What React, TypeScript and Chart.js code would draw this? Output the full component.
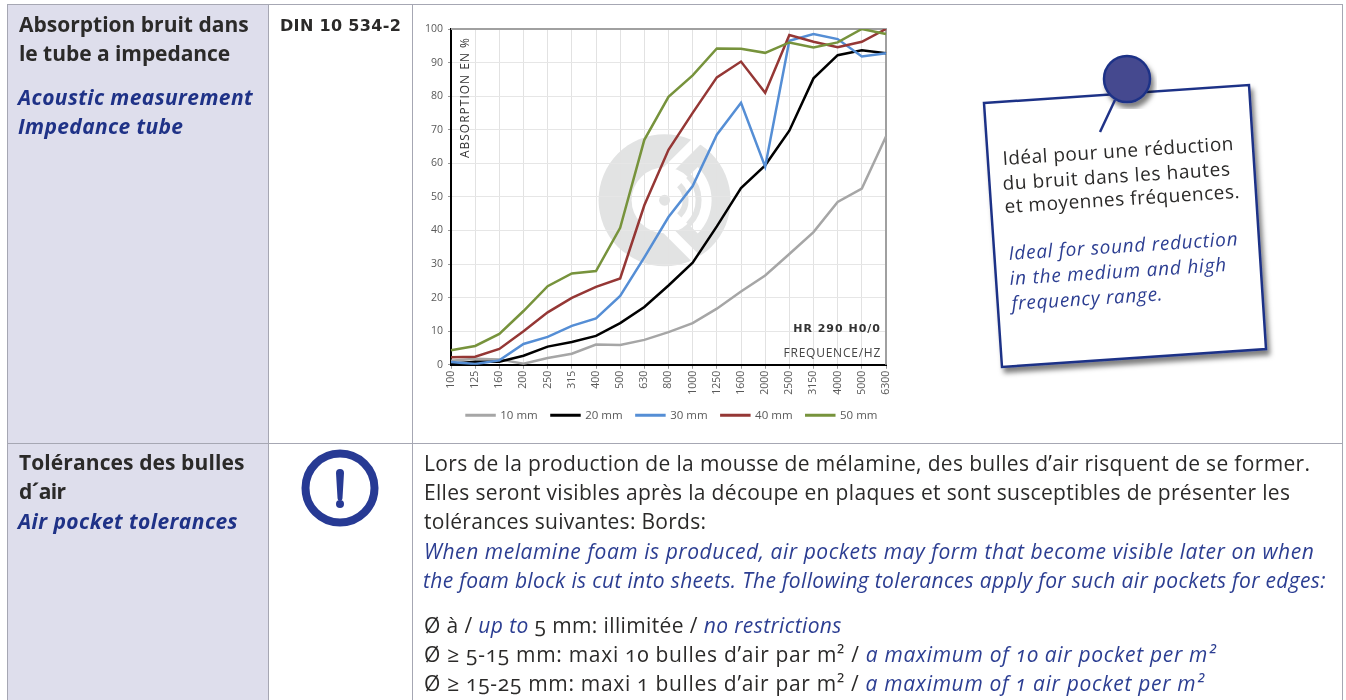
import React, { useEffect, useLayoutEffect, useRef } from "react";
import { Chart, registerables } from "chart.js";

Chart.register(...registerables);

const frequencies = ["100","125","160","200","250","315","400","500","630","800","1000","1250","1600","2000","2500","3150","4000","5000","6300"];
const mm10 = [1.2,1.8,1.6,0.3,2,3.3,6,5.9,7.4,9.7,12.4,16.7,21.8,26.6,33,39.5,48.5,52.5,68];
const mm20 = [0.3,0.9,0.9,2.7,5.4,6.8,8.6,12.4,17.2,23.6,30.4,41.2,52.6,59.4,69.7,85.3,92.2,93.7,92.8];
const mm30 = [0.8,0.2,1.3,6.2,8.3,11.6,13.8,20.5,32,44,53.2,68.5,78,59,96.5,98.5,97,91.8,92.8];
const mm40 = [2.2,2.4,4.7,10,15.6,19.9,23.2,25.7,47.5,64,75,85.6,90.3,81,98.2,96.2,94.6,96.2,100];
const mm50 = [4.3,5.6,9.2,16,23.4,27.2,27.9,40.8,67,79.8,86.2,94.2,94.1,92.9,96,94.5,96,100,98.5];
const seriesNames = ["10 mm","20 mm","30 mm","40 mm","50 mm"];
const seriesValues = [mm10,mm20,mm30,mm40,mm50];
const seriesColors = ["#a6a6a6","#000000","#558ed5","#953735","#77933c"];

const FONT = '"Open Sans", sans-serif';
const INK = "#2b2a29";
const BLUE = "#1f3287";
const SOFT = "#2c3e92";

function arcBand(ctx: CanvasRenderingContext2D, cx: number, cy: number, r: number, w: number, half: number) {
  ctx.beginPath();
  ctx.lineWidth = w;
  ctx.arc(cx, cy, r, -half, half);
  ctx.stroke();
}

const decor = {
  id: "decor",
  afterLayout(chart: any) {
    const d = (chart.width - chart.legend.width) / 2 - chart.legend.left;
    chart.legend.left += d;
    chart.legend.right += d;
  },
  beforeDraw(chart: any) {
    const { ctx, chartArea: a } = chart;
    const cx = a.left + a.width * 0.491;
    const cy = a.top + a.height * 0.51;
    const gray = "#e2e3e3";
    ctx.save();
    ctx.fillStyle = gray;
    ctx.beginPath(); ctx.arc(cx, cy, 66, 0, Math.PI * 2); ctx.fill();
    ctx.fillStyle = "#fff";
    ctx.beginPath(); ctx.arc(cx, cy, 33, 0, Math.PI * 2); ctx.fill();
    ctx.beginPath();
    ctx.moveTo(cx, cy);
    ctx.lineTo(cx + 80, cy - 80);
    ctx.lineTo(cx + 80, cy + 80);
    ctx.closePath();
    ctx.save(); ctx.clip();
    ctx.beginPath(); ctx.arc(cx, cy, 47, 0, Math.PI * 2); ctx.fill();
    ctx.restore();
    ctx.strokeStyle = "#fff";
    ctx.lineWidth = 10;
    for (const s of [-1, 1]) {
      ctx.beginPath();
      ctx.moveTo(cx + 2, cy + s * 29);
      ctx.lineTo(cx + 42, cy + s * 69);
      ctx.stroke();
    }
    ctx.strokeStyle = gray;
    arcBand(ctx, cx, cy, 21, 6, 0.8);
    arcBand(ctx, cx, cy, 34, 6, 0.8);
    ctx.fillStyle = gray;
    ctx.beginPath(); ctx.arc(cx, cy, 5.5, 0, Math.PI * 2); ctx.fill();
    ctx.restore();
  },
  beforeDatasetsDraw(chart: any) {
    const { ctx, chartArea: a } = chart;
    ctx.save();
    ctx.strokeStyle = "#a0a0a0";
    ctx.lineWidth = 2;
    ctx.beginPath();
    ctx.moveTo(a.left, a.top);
    ctx.lineTo(a.right, a.top);
    ctx.lineTo(a.right, a.bottom);
    ctx.stroke();

    ctx.fillStyle = "#333";
    ctx.textBaseline = "alphabetic";
    ctx.textAlign = "right";
    ctx.font = "bold 11px 'DejaVu Sans'";
    (ctx as any).letterSpacing = "1px";
    ctx.fillText("HR 290 H0/0", a.right - 5, a.bottom - 33);
    ctx.font = `12px ${FONT}`;
    (ctx as any).letterSpacing = "0.75px";
    ctx.fillStyle = "#444";
    ctx.fillText("FREQUENCE/HZ", a.right - 5, a.bottom - 8);
    ctx.translate(a.left + 18, a.top + 8);
    ctx.rotate(-Math.PI / 2);
    (ctx as any).letterSpacing = "1px";
    ctx.fillStyle = "#333";
    ctx.fillText("ABSORPTION EN %", 0, 0);
    ctx.restore();
  },
};

function AcousticChart() {
  const ref = useRef<HTMLCanvasElement>(null);
  useEffect(() => {
    const chart = new Chart(ref.current!, {
      type: "line",
      data: {
        labels: frequencies,
        datasets: seriesNames.map((label, i) => ({
          label,
          data: seriesValues[i],
          borderColor: seriesColors[i],
          backgroundColor: seriesColors[i],
          borderWidth: 2.5,
          pointRadius: 0,
          tension: 0,
          order: seriesNames.length - i,
        })),
      },
      options: {
        responsive: false,
        animation: false,
        layout: { padding: { top: 23, right: 45, bottom: 11, left: 0 } },
        plugins: {
          title: { display: false },
          tooltip: { enabled: false },
          legend: {
            position: "bottom",
            labels: {
              boxWidth: 28,
              boxHeight: 0.5,
              padding: 13.75,
              color: "#595959",
              font: { family: FONT, size: 11.5 },
              sort: (a: any, b: any) => a.datasetIndex - b.datasetIndex,
            },
          },
        },
        scales: {
          x: {
            offset: false,
            afterFit: (s: any) => { s.height = 31; },
            grid: { color: "#e2e2e2", lineWidth: 1, tickLength: 4, tickColor: "#9a9a9a" },
            border: { color: "#000", width: 2 },
            ticks: {
              autoSkip: false, minRotation: 90, maxRotation: 90, padding: 2,
              color: "#595959", font: { family: FONT, size: 10.5 },
            },
          },
          y: {
            min: 0, max: 100,
            afterFit: (s: any) => { s.width = 38; },
            grid: { color: "#e6e6e6", lineWidth: 1, tickLength: 3, tickColor: "#9a9a9a" },
            border: { color: "#000", width: 2 },
            ticks: {
              stepSize: 10, padding: 5,
              color: "#595959", font: { family: FONT, size: 10.5 },
            },
          },
        },
      },
      plugins: [decor],
    } as any);
    return () => chart.destroy();
  }, []);
  return <canvas ref={ref} width={518} height={436} style={{ position: "absolute", left: 413, top: 6, width: 518, height: 436 }} />;
}

type LineProps = { x: number; y: number; w: number; size: number; bold?: boolean; italic?: boolean; color?: string; rot?: number; family?: string; old?: boolean; children: React.ReactNode };

function Line({ x, y, w, size, bold, italic, color = INK, rot = 0, family = FONT, old, children }: LineProps) {
  const base = 0.388 * size;
  return (
    <span
      data-fit={w}
      style={{
        position: "absolute", left: x, top: y - base + 0.5, lineHeight: 0, whiteSpace: "nowrap",
        fontFamily: family, fontSize: size, fontWeight: bold ? 700 : 400, fontStyle: italic ? "italic" : "normal",
        fontVariantNumeric: old ? "oldstyle-nums" : undefined,
        color, transform: rot ? `rotate(${rot}deg)` : undefined, transformOrigin: `0 ${base}px`,
      }}
    >
      {children}
    </span>
  );
}

const Em = ({ children }: { children: React.ReactNode }) => <i style={{ color: SOFT }}>{children}</i>;

function Note() {
  return (
    <svg width={1346} height={700} style={{ position: "absolute", left: 0, top: 0 }}>
      <defs>
        <filter id="sh" x="-10%" y="-10%" width="125%" height="125%">
          <feDropShadow dx="3" dy="5" stdDeviation="2.5" floodColor="#000" floodOpacity="0.5" />
        </filter>
      </defs>
      <polygon points="984,103 1249,85 1266,349 1002,367" fill="#fff" stroke={BLUE} strokeWidth={2.5} filter="url(#sh)" />
      <circle cx={1127} cy={79} r={23} fill="#45498f" stroke={BLUE} strokeWidth={2.5} filter="url(#sh)" />
      <line x1={1115} y1={100} x2={1100} y2={132} stroke={BLUE} strokeWidth={2.5} />
      <circle cx={340} cy={488} r={34.5} fill="none" stroke="#273a94" strokeWidth={8} />
      <path d="M336,473 a4,4 0 0 1 8,0 L342.5,498 a2.5,2.5 0 0 1 -5,0 Z" fill="#273a94" />
      <circle cx={340} cy={504} r={4} fill="#273a94" />
    </svg>
  );
}

export default function App() {
  const rootRef = useRef<HTMLDivElement>(null);
  useLayoutEffect(() => {
    rootRef.current!.querySelectorAll<HTMLElement>("[data-fit]").forEach((el) => {
      const n = (el.textContent || "").length;
      const diff = Number(el.dataset.fit) - el.offsetWidth;
      el.style.letterSpacing = `${diff / n}px`;
    });
  }, []);
  const rule = "#a6a7b3";
  const rect = (left: number, top: number, width: number, height: number, background: string) => (
    <div style={{ position: "absolute", left, top, width, height, background }} />
  );
  return (
    <div ref={rootRef} style={{ position: "fixed", left: 0, top: 0, width: 1346, height: 700, overflow: "hidden", background: "#fff" }}>
      {rect(8, 5, 260, 695, "#dedeec")}
      {rect(7, 4, 1336, 1, rule)}
      {rect(7, 443, 1336, 1, rule)}
      {rect(7, 4, 1, 696, rule)}
      {rect(268, 4, 1, 696, rule)}
      {rect(412, 4, 1, 696, rule)}
      {rect(1342, 4, 1, 696, rule)}
      <AcousticChart />
      <Note />

      <Line x={19} y={32} w={230} size={21} bold>Absorption bruit dans</Line>
      <Line x={19} y={61} w={211} size={21} bold>le tube a impedance</Line>
      <Line x={18} y={105} w={235} size={21} bold italic color={BLUE}>Acoustic measurement</Line>
      <Line x={18} y={134} w={165} size={21} bold italic color={BLUE}>Impedance tube</Line>
      <Line x={280} y={32} w={121} size={16} bold family="'DejaVu Sans'">DIN 10 534-2</Line>

      <Line x={19} y={470} w={225} size={21} bold>Tolérances des bulles</Line>
      <Line x={19} y={499} w={47} size={21} bold>d´air</Line>
      <Line x={18} y={529} w={220} size={21} bold italic color={BLUE}>Air pocket tolerances</Line>

      <Line x={424} y={471} w={886} size={21}>Lors de la production de la mousse de mélamine, des bulles d’air risquent de se former.</Line>
      <Line x={424} y={500} w={866} size={21}>Elles seront visibles après la découpe en plaques et sont susceptibles de présenter les</Line>
      <Line x={424} y={529} w={282} size={21}>tolérances suivantes: Bords:</Line>
      <Line x={424} y={559} w={890} size={21} italic color={SOFT}>When melamine foam is produced, air pockets may form that become visible later on when</Line>
      <Line x={423} y={588} w={903} size={21} italic color={SOFT}>the foam block is cut into sheets. The following tolerances apply for such air pockets for edges:</Line>
      <Line x={424} y={633} w={418} size={21} old>Ø à / <Em>up to</Em> 5 mm: illimitée / <Em>no restrictions</Em></Line>
      <Line x={424} y={662} w={792} size={21} old>Ø ≥ 5-15 mm: maxi 10 bulles d’air par m² / <Em>a maximum of 10 air pocket per m²</Em></Line>
      <Line x={424} y={691} w={780} size={21} old>Ø ≥ 15-25 mm: maxi 1 bulles d’air par m² / <Em>a maximum of 1 air pocket per m²</Em></Line>

      <Line x={1003} y={165} w={232} size={19} rot={-3.7}>Idéal pour une réduction</Line>
      <Line x={1003} y={190} w={228} size={19} rot={-3.7}>du bruit dans les hautes</Line>
      <Line x={1005} y={213} w={236} size={19} rot={-3.7}>et moyennes fréquences.</Line>
      <Line x={1009} y={260} w={230} size={19} italic color={SOFT} rot={-3.7}>Ideal for sound reduction</Line>
      <Line x={1010} y={285} w={218} size={19} italic color={SOFT} rot={-3.7}>in the medium and high</Line>
      <Line x={1012} y={310} w={152} size={19} italic color={SOFT} rot={-3.7}>frequency range.</Line>
    </div>
  );
}
